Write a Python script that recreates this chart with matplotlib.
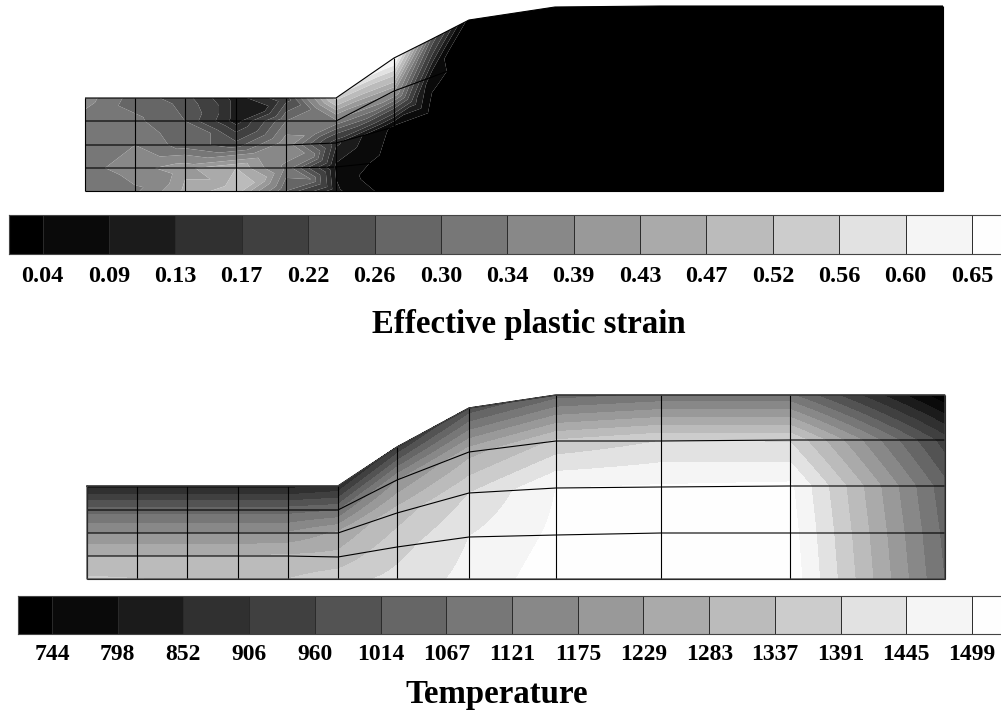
import numpy as np
import matplotlib
matplotlib.use("Agg")
import matplotlib.pyplot as plt
from matplotlib.colors import ListedColormap
from matplotlib.tri import Triangulation

W, H = 1001, 711
shades = ["#000000", "#0a0a0a", "#1b1b1b", "#303030", "#404040", "#535353", "#666666", "#777777",
          "#888888", "#999999", "#aaaaaa", "#bbbbbb", "#cccccc", "#e2e2e2", "#f5f5f5", "#fefefe"]

strain_levels = [0.04, 0.09, 0.13, 0.17, 0.22, 0.26, 0.30, 0.34, 0.39, 0.43, 0.47, 0.52, 0.56, 0.60, 0.65]
strain_labels = ["0.04", "0.09", "0.13", "0.17", "0.22", "0.26", "0.30", "0.34", "0.39", "0.43", "0.47", "0.52", "0.56", "0.60", "0.65"]
temp_levels = [744, 798, 852, 906, 960, 1014, 1067, 1121, 1175, 1229, 1283, 1337, 1391, 1445, 1499]

# column 432 only samples the field; it has no mesh line of its own
strain_x = [85, 135, 185, 236, 286, 336, 394, 432, 469, 555, 660, 790, 943]
strain_sample_only = [7]
strain_y = [[98, 98, 98, 98, 98, 98, 58, 39, 20, 7, 6, 6, 6],
            [121, 121, 121, 121, 121, 121, 91, 77, 63, 52, 52, 52, 52],
            [145, 145, 145, 145, 145, 143, 127, 116, 105, 98, 98, 98, 98],
            [168, 168, 168, 168, 168, 167, 161, 155, 150, 145, 145, 145, 145],
            [191, 191, 191, 191, 191, 191, 191, 191, 191, 191, 191, 191, 191]]
strain_nodes = [[.36, .28, .24, .11, .20, .54, .66, .25, .02, .01, .01, .01, .01],
                [.32, .31, .26, .11, .30, .33, .40, .06, .01, .01, .01, .01, .01],
                [.34, .34, .28, .24, .37, .14, .03, .01, .01, .01, .01, .01, .01],
                [.32, .37, .42, .47, .33, .08, .01, .01, .01, .01, .01, .01, .01],
                [.31, .33, .44, .50, .26, .10, .01, .01, .01, .01, .01, .01, .01]]
strain_centers = [[.31, .28, .20, .10, .30, .48, .32, .03, .01, .01, .01, .01],
                  [.32, .30, .26, .24, .33, .25, .15, .01, .01, .01, .01, .01],
                  [.33, .34, .33, .38, .33, .07, .02, .01, .01, .01, .01, .01],
                  [.32, .36, .43, .46, .30, .03, .01, .01, .01, .01, .01, .01]]

temp_x = [87, 137, 187, 238, 288, 338, 397, 469, 556, 661, 790, 945]
temp_y = [[486, 486, 486, 486, 486, 486, 447, 408, 395, 395, 395, 395],
          [510, 510, 510, 510, 510, 510, 480, 452, 441, 441, 440, 440],
          [533, 533, 533, 533, 533, 533, 513, 493, 488, 487, 486, 486],
          [556, 556, 556, 556, 556, 557, 547, 537, 535, 533, 533, 533],
          [579, 579, 579, 579, 579, 579, 579, 579, 579, 579, 579, 579]]
temp_nodes = [[830, 830, 830, 830, 830, 860, 905, 975, 1040, 1075, 1075, 700],
              [1040, 1040, 1040, 1040, 1040, 1060, 1170, 1260, 1345, 1391, 1385, 930],
              [1175, 1175, 1175, 1175, 1180, 1240, 1310, 1390, 1499, 1505, 1510, 1030],
              [1283, 1283, 1283, 1283, 1290, 1300, 1370, 1445, 1510, 1530, 1525, 1050],
              [1345, 1338, 1330, 1330, 1337, 1367, 1407, 1462, 1530, 1545, 1535, 1064]]


def refine(a, k=8):
    """Subdivide each quad of a 2-D node array bilinearly."""
    nr, nc = a.shape
    ri = np.linspace(0, nr - 1, (nr - 1) * k + 1)
    ci = np.linspace(0, nc - 1, (nc - 1) * k + 1)
    r0 = np.minimum(ri.astype(int), nr - 2)
    c0 = np.minimum(ci.astype(int), nc - 2)
    fr = (ri - r0)[:, None]
    fc = (ci - c0)[None, :]
    g = np.ix_(r0, c0)
    g10 = np.ix_(r0 + 1, c0)
    g01 = np.ix_(r0, c0 + 1)
    g11 = np.ix_(r0 + 1, c0 + 1)
    return a[g] * (1 - fr) * (1 - fc) + a[g01] * (1 - fr) * fc + a[g10] * fr * (1 - fc) + a[g11] * fr * fc


def draw_field(ax, xs, ys, nodes, levels, centers=None, outline=None, sample_only=()):
    xs = np.asarray(xs, float)
    ys = np.asarray(ys, float)
    nodes = np.asarray(nodes, float)
    nr, nc = ys.shape
    X = np.tile(xs, (nr, 1))
    if centers is None:
        ax.contourf(refine(X), refine(ys), refine(nodes), levels=levels, colors=shades, extend="both")
    else:
        cx = (X[:-1, :-1] + X[:-1, 1:] + X[1:, :-1] + X[1:, 1:]) / 4
        cy = (ys[:-1, :-1] + ys[:-1, 1:] + ys[1:, :-1] + ys[1:, 1:]) / 4
        cv = np.asarray(centers, float)
        px = np.r_[X.ravel(), cx.ravel()]
        py = np.r_[ys.ravel(), cy.ravel()]
        pv = np.r_[nodes.ravel(), cv.ravel()]
        tris = []
        for r in range(nr - 1):
            for c in range(nc - 1):
                a, b = r * nc + c, r * nc + c + 1
                d, e = (r + 1) * nc + c, (r + 1) * nc + c + 1
                m = nr * nc + r * (nc - 1) + c
                tris += [[a, b, m], [b, e, m], [e, d, m], [d, a, m]]
        tri = Triangulation(px, py, tris)
        ax.tricontourf(tri, pv, levels=levels, colors=shades, extend="both", antialiased=True)
    for c in range(nc):
        if c not in sample_only:
            ax.plot(X[:, c], ys[:, c], color="#000000", lw=0.8, solid_capstyle="butt")
    for r in range(nr):
        ax.plot(X[r], ys[r], color="#000000", lw=0.8, solid_capstyle="butt")
    if outline:
        ox = np.r_[X[0], X[-1][::-1], X[0][0]]
        oy = np.r_[ys[0], ys[-1][::-1], ys[0][0]]
        ax.plot(ox, oy, color=outline, lw=0.9)


def draw_bar(fig, left, top, right, bottom, labels, span, size, pad):
    cax = fig.add_axes([left / W, 1 - bottom / H, (right - left) / W, (bottom - top) / H])
    n = len(labels)
    edges = np.r_[span[0], np.arange(n), span[1]]
    cax.pcolormesh(edges, [0, 1], np.arange(n + 1)[None, :], cmap=ListedColormap(shades),
                   vmin=-0.5, vmax=n + 0.5, linewidth=0)
    cax.vlines(np.arange(n), 0, 1, color="#2a2a2a", lw=0.7)
    cax.set_xlim(span)
    cax.set_ylim(0, 1)
    cax.set_yticks([])
    cax.set_xticks(np.arange(n), labels)
    cax.tick_params(axis="x", length=0, pad=pad)
    for t in cax.get_xticklabels():
        t.set_fontfamily("Liberation Serif")
        t.set_fontweight("bold")
        t.set_fontsize(size)
    for s in cax.spines.values():
        s.set_color("#444444")
        s.set_linewidth(0.8)
    cax.spines["right"].set_visible(False)


fig = plt.figure(figsize=(W / 100, H / 100), dpi=100, facecolor="white")
ax = fig.add_axes([0, 0, 1, 1])
ax.set_xlim(0, W)
ax.set_ylim(H, 0)
ax.axis("off")

draw_field(ax, strain_x, strain_y, strain_nodes, strain_levels, strain_centers, sample_only=strain_sample_only)
draw_field(ax, temp_x, temp_y, temp_nodes, temp_levels, outline="#444444")

draw_bar(fig, 9, 215, 1001, 254, strain_labels, (-0.506, 14.437), 17.5, 8.5)
draw_bar(fig, 18, 596, 1001, 634, [str(v) for v in temp_levels], (-0.517, 14.44), 17, 7)

ax.text(528.5, 333, "Effective plastic strain", ha="center", va="baseline",
        family="Liberation Serif", weight="bold", fontsize=23.7)
ax.text(496.5, 703, "Temperature", ha="center", va="baseline",
        family="Liberation Serif", weight="bold", fontsize=23.7)

fig.savefig("out.png", dpi=100)
